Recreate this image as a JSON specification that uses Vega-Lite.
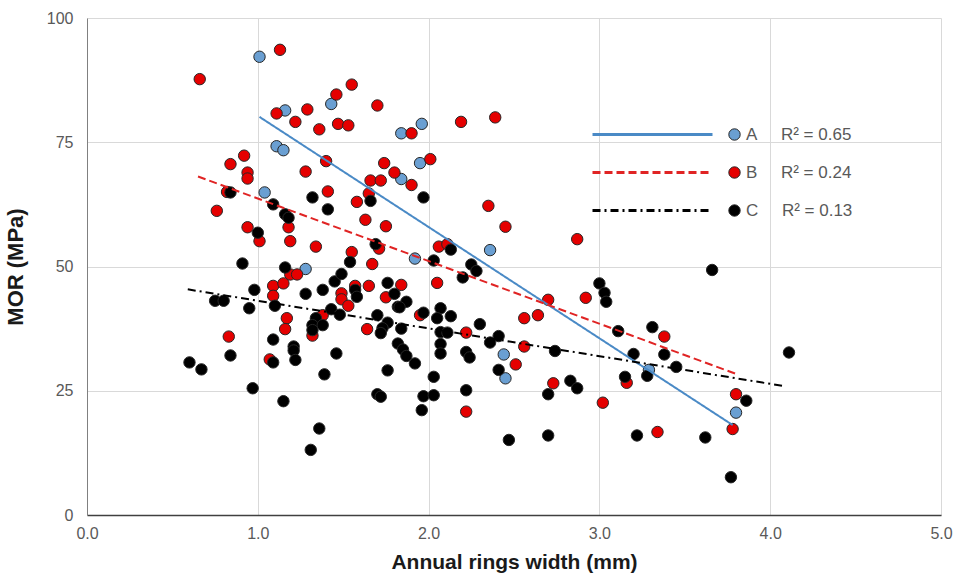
{
  "$schema": "https://vega.github.io/schema/vega-lite/v6.json",
  "width": 854,
  "height": 497,
  "autosize": "none",
  "padding": {"left": 87, "top": 18, "right": 14, "bottom": 62},
  "background": "white",
  "config": {
    "view": {"stroke": null},
    "axis": {
      "labelFont": "Liberation Sans",
      "labelFontSize": 16,
      "labelColor": "#595959",
      "titleFont": "Liberation Sans",
      "titleFontSize": 21,
      "titleFontWeight": "bold",
      "titleColor": "#1a1a1a",
      "gridColor": "#d9d9d9",
      "gridWidth": 1,
      "ticks": false
    }
  },
  "datasets": {
    "pts": [
      {"group": "A", "ring": 1.01, "mor": 92.2},
      {"group": "A", "ring": 1.16, "mor": 81.4},
      {"group": "A", "ring": 1.43, "mor": 82.7},
      {"group": "A", "ring": 1.84, "mor": 76.8},
      {"group": "A", "ring": 1.96, "mor": 78.7},
      {"group": "A", "ring": 1.11, "mor": 74.2},
      {"group": "A", "ring": 1.15, "mor": 73.4},
      {"group": "A", "ring": 1.95, "mor": 70.8},
      {"group": "A", "ring": 1.84, "mor": 67.6},
      {"group": "A", "ring": 1.04, "mor": 64.9},
      {"group": "A", "ring": 1.28, "mor": 49.5},
      {"group": "A", "ring": 1.92, "mor": 51.6},
      {"group": "A", "ring": 2.36, "mor": 53.3},
      {"group": "A", "ring": 2.44, "mor": 32.3},
      {"group": "A", "ring": 2.45, "mor": 27.5},
      {"group": "A", "ring": 3.29, "mor": 29.2},
      {"group": "A", "ring": 3.8, "mor": 20.6},
      {"group": "B", "ring": 0.66, "mor": 87.7},
      {"group": "B", "ring": 1.13, "mor": 93.6},
      {"group": "B", "ring": 1.11, "mor": 80.8},
      {"group": "B", "ring": 1.22, "mor": 79.1},
      {"group": "B", "ring": 1.29, "mor": 81.6},
      {"group": "B", "ring": 1.36, "mor": 77.6},
      {"group": "B", "ring": 1.46, "mor": 84.6},
      {"group": "B", "ring": 1.55, "mor": 86.6},
      {"group": "B", "ring": 1.47, "mor": 78.7},
      {"group": "B", "ring": 1.53, "mor": 78.4},
      {"group": "B", "ring": 1.7, "mor": 82.4},
      {"group": "B", "ring": 0.92, "mor": 72.3},
      {"group": "B", "ring": 0.84, "mor": 70.6},
      {"group": "B", "ring": 0.94, "mor": 68.9},
      {"group": "B", "ring": 0.94, "mor": 67.7},
      {"group": "B", "ring": 1.28, "mor": 69.1},
      {"group": "B", "ring": 1.4, "mor": 71.2},
      {"group": "B", "ring": 1.74, "mor": 70.8},
      {"group": "B", "ring": 1.8, "mor": 68.9},
      {"group": "B", "ring": 1.66, "mor": 67.3},
      {"group": "B", "ring": 1.72, "mor": 67.3},
      {"group": "B", "ring": 1.9, "mor": 76.8},
      {"group": "B", "ring": 2.19, "mor": 79.1},
      {"group": "B", "ring": 2.39, "mor": 80.0},
      {"group": "B", "ring": 2.01, "mor": 71.6},
      {"group": "B", "ring": 1.9, "mor": 66.4},
      {"group": "B", "ring": 0.82, "mor": 65.0},
      {"group": "B", "ring": 1.41, "mor": 65.1},
      {"group": "B", "ring": 1.58, "mor": 63.0},
      {"group": "B", "ring": 1.65, "mor": 64.7},
      {"group": "B", "ring": 0.76, "mor": 61.2},
      {"group": "B", "ring": 1.18, "mor": 57.9},
      {"group": "B", "ring": 1.63, "mor": 59.4},
      {"group": "B", "ring": 1.75, "mor": 58.1},
      {"group": "B", "ring": 0.94, "mor": 57.9},
      {"group": "B", "ring": 1.01, "mor": 55.1},
      {"group": "B", "ring": 1.19, "mor": 55.1},
      {"group": "B", "ring": 1.34, "mor": 54.0},
      {"group": "B", "ring": 1.71, "mor": 53.6},
      {"group": "B", "ring": 1.55, "mor": 52.9},
      {"group": "B", "ring": 1.67, "mor": 50.5},
      {"group": "B", "ring": 1.19, "mor": 48.4},
      {"group": "B", "ring": 1.23, "mor": 48.4},
      {"group": "B", "ring": 1.09, "mor": 46.1},
      {"group": "B", "ring": 1.15, "mor": 46.6},
      {"group": "B", "ring": 1.09, "mor": 44.1},
      {"group": "B", "ring": 1.49, "mor": 44.6},
      {"group": "B", "ring": 1.49, "mor": 43.4},
      {"group": "B", "ring": 1.57, "mor": 46.1},
      {"group": "B", "ring": 1.65, "mor": 46.1},
      {"group": "B", "ring": 1.75, "mor": 43.8},
      {"group": "B", "ring": 1.53, "mor": 42.1},
      {"group": "B", "ring": 1.17, "mor": 39.6},
      {"group": "B", "ring": 1.16, "mor": 37.4},
      {"group": "B", "ring": 1.38, "mor": 40.2},
      {"group": "B", "ring": 1.64, "mor": 37.4},
      {"group": "B", "ring": 1.32, "mor": 36.1},
      {"group": "B", "ring": 0.83, "mor": 35.9},
      {"group": "B", "ring": 2.35, "mor": 62.2},
      {"group": "B", "ring": 2.45, "mor": 58.0},
      {"group": "B", "ring": 2.87, "mor": 55.5},
      {"group": "B", "ring": 2.06, "mor": 54.0},
      {"group": "B", "ring": 2.11, "mor": 54.5},
      {"group": "B", "ring": 2.05, "mor": 46.7},
      {"group": "B", "ring": 1.84, "mor": 46.3},
      {"group": "B", "ring": 2.92, "mor": 43.7},
      {"group": "B", "ring": 2.7, "mor": 43.3},
      {"group": "B", "ring": 2.64, "mor": 40.2},
      {"group": "B", "ring": 2.56, "mor": 39.6},
      {"group": "B", "ring": 1.95, "mor": 40.2},
      {"group": "B", "ring": 2.22, "mor": 36.7},
      {"group": "B", "ring": 1.07, "mor": 31.3},
      {"group": "B", "ring": 2.22, "mor": 20.8},
      {"group": "B", "ring": 2.56, "mor": 33.9},
      {"group": "B", "ring": 2.51, "mor": 30.3},
      {"group": "B", "ring": 2.73, "mor": 26.5},
      {"group": "B", "ring": 3.02, "mor": 22.6},
      {"group": "B", "ring": 3.16, "mor": 26.6},
      {"group": "B", "ring": 3.38, "mor": 35.9},
      {"group": "B", "ring": 3.8, "mor": 24.3},
      {"group": "B", "ring": 3.78, "mor": 17.3},
      {"group": "B", "ring": 3.34, "mor": 16.7},
      {"group": "C", "ring": 0.84, "mor": 64.9},
      {"group": "C", "ring": 1.32, "mor": 63.9},
      {"group": "C", "ring": 1.66, "mor": 63.2},
      {"group": "C", "ring": 1.09, "mor": 62.5},
      {"group": "C", "ring": 1.41, "mor": 61.5},
      {"group": "C", "ring": 1.16, "mor": 60.5},
      {"group": "C", "ring": 1.18, "mor": 59.8},
      {"group": "C", "ring": 1.0, "mor": 56.8},
      {"group": "C", "ring": 1.69, "mor": 54.5},
      {"group": "C", "ring": 1.54, "mor": 50.9},
      {"group": "C", "ring": 0.91, "mor": 50.6},
      {"group": "C", "ring": 1.16, "mor": 49.8},
      {"group": "C", "ring": 0.98, "mor": 45.3},
      {"group": "C", "ring": 1.28, "mor": 44.5},
      {"group": "C", "ring": 1.38, "mor": 45.3},
      {"group": "C", "ring": 1.45, "mor": 47.0},
      {"group": "C", "ring": 1.49, "mor": 48.5},
      {"group": "C", "ring": 1.57, "mor": 45.3},
      {"group": "C", "ring": 1.58, "mor": 43.9},
      {"group": "C", "ring": 1.76, "mor": 46.7},
      {"group": "C", "ring": 1.8, "mor": 44.5},
      {"group": "C", "ring": 1.43, "mor": 41.4},
      {"group": "C", "ring": 1.48, "mor": 40.3},
      {"group": "C", "ring": 1.82, "mor": 41.9},
      {"group": "C", "ring": 0.75, "mor": 43.1},
      {"group": "C", "ring": 0.8, "mor": 43.1},
      {"group": "C", "ring": 0.95, "mor": 41.6},
      {"group": "C", "ring": 1.1, "mor": 42.1},
      {"group": "C", "ring": 1.34, "mor": 39.6},
      {"group": "C", "ring": 1.32, "mor": 38.2},
      {"group": "C", "ring": 1.38, "mor": 38.2},
      {"group": "C", "ring": 1.7, "mor": 40.2},
      {"group": "C", "ring": 1.76, "mor": 38.7},
      {"group": "C", "ring": 1.73, "mor": 37.6},
      {"group": "C", "ring": 1.72, "mor": 36.6},
      {"group": "C", "ring": 1.32, "mor": 37.2},
      {"group": "C", "ring": 1.09, "mor": 35.3},
      {"group": "C", "ring": 1.97, "mor": 63.9},
      {"group": "C", "ring": 2.13, "mor": 53.4},
      {"group": "C", "ring": 2.03, "mor": 51.2},
      {"group": "C", "ring": 2.25, "mor": 50.4},
      {"group": "C", "ring": 2.28, "mor": 49.1},
      {"group": "C", "ring": 2.2, "mor": 47.8},
      {"group": "C", "ring": 1.87, "mor": 42.9},
      {"group": "C", "ring": 1.83, "mor": 41.8},
      {"group": "C", "ring": 3.0, "mor": 46.6},
      {"group": "C", "ring": 3.03, "mor": 44.7},
      {"group": "C", "ring": 3.04, "mor": 42.9},
      {"group": "C", "ring": 2.07, "mor": 41.6},
      {"group": "C", "ring": 2.05, "mor": 39.6},
      {"group": "C", "ring": 2.13, "mor": 40.0},
      {"group": "C", "ring": 1.97, "mor": 40.7},
      {"group": "C", "ring": 2.3, "mor": 38.4},
      {"group": "C", "ring": 2.07, "mor": 36.8},
      {"group": "C", "ring": 2.11, "mor": 36.7},
      {"group": "C", "ring": 2.41, "mor": 36.0},
      {"group": "C", "ring": 1.84, "mor": 37.5},
      {"group": "C", "ring": 3.11, "mor": 37.0},
      {"group": "C", "ring": 1.21, "mor": 33.9},
      {"group": "C", "ring": 1.21, "mor": 33.1},
      {"group": "C", "ring": 1.09, "mor": 30.7},
      {"group": "C", "ring": 1.22, "mor": 31.2},
      {"group": "C", "ring": 1.46, "mor": 32.5},
      {"group": "C", "ring": 1.39, "mor": 28.3},
      {"group": "C", "ring": 0.6, "mor": 30.7},
      {"group": "C", "ring": 0.67, "mor": 29.3},
      {"group": "C", "ring": 0.84, "mor": 32.1},
      {"group": "C", "ring": 0.97, "mor": 25.5},
      {"group": "C", "ring": 1.15, "mor": 22.9},
      {"group": "C", "ring": 1.36, "mor": 17.4},
      {"group": "C", "ring": 1.31, "mor": 13.1},
      {"group": "C", "ring": 1.82, "mor": 34.5},
      {"group": "C", "ring": 1.76, "mor": 29.1},
      {"group": "C", "ring": 1.7, "mor": 24.3},
      {"group": "C", "ring": 1.72, "mor": 23.8},
      {"group": "C", "ring": 1.85, "mor": 33.3},
      {"group": "C", "ring": 1.87, "mor": 32.0},
      {"group": "C", "ring": 1.92, "mor": 30.5},
      {"group": "C", "ring": 1.97, "mor": 23.9},
      {"group": "C", "ring": 1.96, "mor": 21.1},
      {"group": "C", "ring": 2.03, "mor": 27.8},
      {"group": "C", "ring": 2.03, "mor": 24.1},
      {"group": "C", "ring": 2.07, "mor": 34.4},
      {"group": "C", "ring": 2.07, "mor": 32.5},
      {"group": "C", "ring": 2.22, "mor": 32.8},
      {"group": "C", "ring": 2.24, "mor": 31.7},
      {"group": "C", "ring": 2.22, "mor": 25.1},
      {"group": "C", "ring": 2.36, "mor": 34.7},
      {"group": "C", "ring": 2.41, "mor": 29.2},
      {"group": "C", "ring": 2.74, "mor": 33.0},
      {"group": "C", "ring": 2.7, "mor": 24.3},
      {"group": "C", "ring": 2.83, "mor": 27.0},
      {"group": "C", "ring": 2.87, "mor": 25.5},
      {"group": "C", "ring": 2.47, "mor": 15.1},
      {"group": "C", "ring": 2.7, "mor": 16.0},
      {"group": "C", "ring": 3.15, "mor": 27.8},
      {"group": "C", "ring": 3.66, "mor": 49.3},
      {"group": "C", "ring": 3.31, "mor": 37.8},
      {"group": "C", "ring": 3.2, "mor": 32.4},
      {"group": "C", "ring": 3.38, "mor": 32.3},
      {"group": "C", "ring": 3.45, "mor": 29.8},
      {"group": "C", "ring": 3.28, "mor": 28.0},
      {"group": "C", "ring": 3.86, "mor": 23.0},
      {"group": "C", "ring": 3.22, "mor": 16.0},
      {"group": "C", "ring": 3.62, "mor": 15.6},
      {"group": "C", "ring": 3.77, "mor": 7.6},
      {"group": "C", "ring": 4.11, "mor": 32.7}
    ],
    "trend": [
      {"series": "A", "ring": 1.01, "mor": 80.1},
      {"series": "A", "ring": 3.78, "mor": 18.1},
      {"series": "B", "ring": 0.65, "mor": 68.1},
      {"series": "B", "ring": 3.8, "mor": 28.4},
      {"series": "C", "ring": 0.59, "mor": 45.4},
      {"series": "C", "ring": 4.07, "mor": 26.0}
    ]
  },
  "layer": [
    {
      "data": {"name": "pts"},
      "mark": {"type": "point", "filled": true, "opacity": 1, "size": 130, "stroke": "#262626", "strokeWidth": 1},
      "encoding": {
        "x": {
          "field": "ring", "type": "quantitative",
          "scale": {"domain": [0, 5], "nice": false, "zero": false},
          "axis": {"title": "Annual rings width (mm)", "values": [0, 1, 2, 3, 4, 5], "format": ".1f", "labelPadding": 10, "titlePadding": 10, "domainWidth": 1.5, "domainColor": "#404040", "labelFlush": false}
        },
        "y": {
          "field": "mor", "type": "quantitative",
          "scale": {"domain": [0, 100], "nice": false},
          "axis": {"title": "MOR (MPa)", "titleFontSize": 22, "values": [0, 25, 50, 75, 100], "labelPadding": 14, "titlePadding": 19, "domainColor": "#808080", "domainWidth": 1}
        },
        "fill": {
          "field": "group", "type": "nominal",
          "scale": {"range": ["#6a9fd2", "#e50000", "#000000"]},
          "legend": {
            "title": null, "orient": "none", "legendX": 639, "legendY": 108, "direction": "vertical",
            "symbolType": "circle", "symbolSize": 130, "symbolStrokeColor": "#262626", "symbolStrokeWidth": 1, "symbolOpacity": 1,
            "labelFont": "Liberation Sans", "labelFontSize": 17, "labelColor": "#595959", "labelOffset": 3, "rowPadding": 20, "padding": 0, "labelLimit": 300,
            "labelExpr": "datum.label == 'A' ? 'A\u00a0\u00a0\u00a0\u00a0\u00a0R² = 0.65' : datum.label == 'B' ? 'B\u00a0\u00a0\u00a0\u00a0\u00a0R² = 0.24' : 'C\u00a0\u00a0\u00a0\u00a0\u00a0R² = 0.13'"
          }
        }
      }
    },
    {
      "data": {"name": "trend"},
      "mark": {"type": "line", "strokeWidth": 2},
      "encoding": {
        "x": {"field": "ring", "type": "quantitative"},
        "y": {"field": "mor", "type": "quantitative"},
        "stroke": {
          "field": "series", "type": "nominal",
          "scale": {"range": ["#4a8ac6", "#e02424", "#000000"]},
          "legend": {
            "title": null, "orient": "none", "legendX": 497, "legendY": 108, "direction": "vertical",
            "symbolType": "M0,0L24,0", "symbolSize": 100, "symbolStrokeWidth": 3,
            "labelFont": "Liberation Sans", "labelFontSize": 17, "labelColor": "transparent", "rowPadding": 20, "padding": 0
          }
        },
        "strokeDash": {
          "field": "series", "type": "nominal",
          "scale": {"range": [[1, 0], [8, 4], [8, 4, 2, 4]]},
          "legend": {
            "title": null, "orient": "none", "legendX": 497, "legendY": 108, "direction": "vertical",
            "symbolType": "M0,0L24,0", "symbolSize": 100, "symbolStrokeWidth": 3,
            "labelFont": "Liberation Sans", "labelFontSize": 17, "labelColor": "transparent", "rowPadding": 20, "padding": 0
          }
        }
      }
    }
  ]
}
